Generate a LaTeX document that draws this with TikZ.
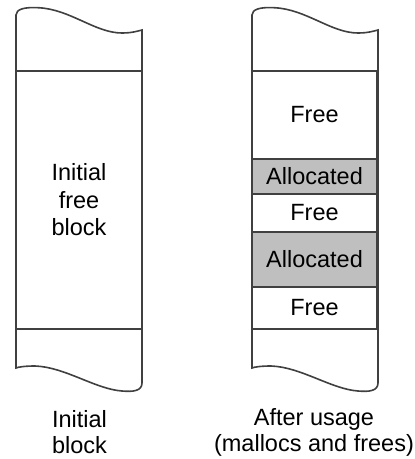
\documentclass[tikz,border=0pt]{standalone}
\usepackage{fontspec}
\setmainfont{Liberation Sans}

\begin{document}
\begin{tikzpicture}[x=1pt,y=-1pt,edge/.style={draw=black!75,line width=1.6pt},free/.style={rectangle,draw=black!75,line width=1.6pt,fill=white,minimum width=125pt,inner sep=0pt,font=\fontsize{23.5}{27}\selectfont},used/.style={free,fill=black!25},label/.style={align=center,font=\fontsize{23.5}{26}\selectfont}]
\useasboundingbox (0,0) rectangle (415,459);
% both columns with wavy ends
\foreach \dx in {0,236} {
\begin{scope}[xshift=\dx pt]
\draw[edge,fill=white] (16,368) -- (16,15) .. controls (16,9) and (25,7) .. (38,7.7) .. controls (70,9) and (95,33) .. (122,33) .. controls (132,33) and (138,31) .. (142,30) -- (142,383) .. controls (142,391) and (133,392) .. (122,391) .. controls (95,389) and (65,367) .. (35,366) .. controls (25,366) and (18,367) .. cycle;
\draw[edge] (16,71) -- (142,71);
\draw[edge] (16,329) -- (142,329);
\end{scope}
}
\node[label,font=\fontsize{23.5}{27.5}\selectfont] (initfree) at (79,200) {Initial\\free\\block};
\node[free] (free1) at (314.5,115) [minimum height=88pt] {Free};
\node[used] (used1) at (314.5,176.5) [minimum height=35pt] {Allocated};
\node[free] (free2) at (314.5,213) [minimum height=38pt] {Free};
\node[used] (used2) at (314.5,259.5) [minimum height=55pt] {Allocated};
\node[free] (free3) at (314.5,308) [minimum height=42pt] {Free};
\node[label] (initcap) at (79.5,432.5) {Initial\\block};
\node[label] (aftercap) at (314,432.5) {After usage\\(mallocs and frees)};
\end{tikzpicture}
\end{document}
